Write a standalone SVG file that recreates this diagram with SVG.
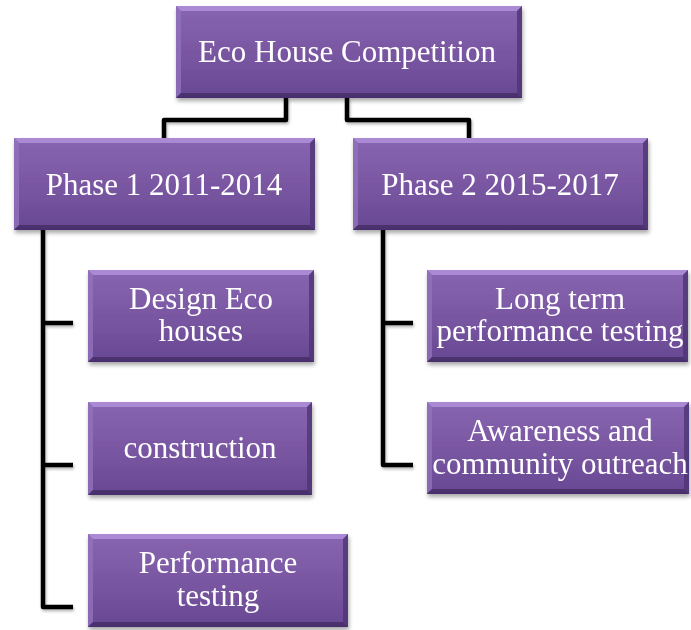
<svg xmlns="http://www.w3.org/2000/svg" width="691" height="630" viewBox="0 0 691 630">
<defs>
<linearGradient id="gf" x1="0" y1="0" x2="0" y2="1">
<stop offset="0" stop-color="#8865b0"/>
<stop offset="0.5" stop-color="#7a57a2"/>
<stop offset="1" stop-color="#684893"/>
</linearGradient>
<filter id="sh" x="-10%" y="-10%" width="120%" height="130%">
<feGaussianBlur in="SourceAlpha" stdDeviation="2"/>
<feOffset dx="1" dy="3" result="o"/>
<feComponentTransfer><feFuncA type="linear" slope="0.35"/></feComponentTransfer>
<feMerge><feMergeNode/><feMergeNode in="SourceGraphic"/></feMerge>
</filter>
<filter id="lsh" x="-20%" y="-20%" width="140%" height="140%">
<feGaussianBlur in="SourceAlpha" stdDeviation="1.5"/>
<feOffset dx="1" dy="2"/>
<feComponentTransfer><feFuncA type="linear" slope="0.3"/></feComponentTransfer>
<feMerge><feMergeNode/><feMergeNode in="SourceGraphic"/></feMerge>
</filter>
</defs>
<style>
.box{fill:url(#gf);}
.bt{fill:#b290dc;opacity:0.85;}
.bl{fill:#9272bb;opacity:0.8;}
.br{fill:#4f3474;opacity:0.8;}
.bb{fill:#442c66;opacity:0.85;}
.t{font-family:'Liberation Serif','DejaVu Serif',serif;font-size:31px;fill:#ffffff;text-anchor:middle;}
.c{fill:none;stroke:#000000;stroke-width:4.5;stroke-linejoin:round;}
</style>
<rect width="691" height="630" fill="#ffffff"/>

<g id="connectors" filter="url(#lsh)">
<path class="c" d="M286,98 V120 H164 V140"/>
<path class="c" d="M347,98 V120 H469 V140"/>
<path class="c" d="M43,230 V607 H73"/>
<path class="c" d="M43,323 H73"/>
<path class="c" d="M43,465 H73"/>
<path class="c" d="M383,230 V465 H413"/>
<path class="c" d="M383,323 H413"/>
</g>

<g id="root" filter="url(#sh)">
<rect class="box" x="176" y="6" width="346" height="92"/>
<polygon class="bt" points="176,6 522,6 517,11 181,11"/>
<polygon class="bl" points="176,6 181,11 181,93 176,98"/>
<polygon class="br" points="522,6 522,98 517,93 517,11"/>
<polygon class="bb" points="176,98 522,98 517,93 181,93"/>
<text class="t" x="347" y="62">Eco House Competition</text>
</g>

<g id="phase1" filter="url(#sh)">
<rect class="box" x="14" y="138" width="301" height="92"/>
<polygon class="bt" points="14,138 315,138 310,143 19,143"/>
<polygon class="bl" points="14,138 19,143 19,225 14,230"/>
<polygon class="br" points="315,138 315,230 310,225 310,143"/>
<polygon class="bb" points="14,230 315,230 310,225 19,225"/>
<text class="t" x="164" y="195">Phase 1 2011-2014</text>
</g>

<g id="phase2" filter="url(#sh)">
<rect class="box" x="353" y="138" width="295" height="92"/>
<polygon class="bt" points="353,138 648,138 643,143 358,143"/>
<polygon class="bl" points="353,138 358,143 358,225 353,230"/>
<polygon class="br" points="648,138 648,230 643,225 643,143"/>
<polygon class="bb" points="353,230 648,230 643,225 358,225"/>
<text class="t" x="500" y="195">Phase 2 2015-2017</text>
</g>

<g id="design" filter="url(#sh)">
<rect class="box" x="88" y="270" width="226" height="92"/>
<polygon class="bt" points="88,270 314,270 309,275 93,275"/>
<polygon class="bl" points="88,270 93,275 93,357 88,362"/>
<polygon class="br" points="314,270 314,362 309,357 309,275"/>
<polygon class="bb" points="88,362 314,362 309,357 93,357"/>
<text class="t" x="201" y="309">Design Eco</text>
<text class="t" x="201" y="341">houses</text>
</g>

<g id="construction" filter="url(#sh)">
<rect class="box" x="88" y="402" width="224" height="93"/>
<polygon class="bt" points="88,402 312,402 307,407 93,407"/>
<polygon class="bl" points="88,402 93,407 93,490 88,495"/>
<polygon class="br" points="312,402 312,495 307,490 307,407"/>
<polygon class="bb" points="88,495 312,495 307,490 93,490"/>
<text class="t" x="200" y="458">construction</text>
</g>

<g id="performance" filter="url(#sh)">
<rect class="box" x="88" y="534" width="260" height="93"/>
<polygon class="bt" points="88,534 348,534 343,539 93,539"/>
<polygon class="bl" points="88,534 93,539 93,622 88,627"/>
<polygon class="br" points="348,534 348,627 343,622 343,539"/>
<polygon class="bb" points="88,627 348,627 343,622 93,622"/>
<text class="t" x="218" y="573">Performance</text>
<text class="t" x="218" y="606">testing</text>
</g>

<g id="longterm" filter="url(#sh)">
<rect class="box" x="427" y="270" width="261" height="92"/>
<polygon class="bt" points="427,270 688,270 683,275 432,275"/>
<polygon class="bl" points="427,270 432,275 432,357 427,362"/>
<polygon class="br" points="688,270 688,362 683,357 683,275"/>
<polygon class="bb" points="427,362 688,362 683,357 432,357"/>
<text class="t" x="560" y="309">Long term</text>
<text class="t" x="560" y="341">performance testing</text>
</g>

<g id="awareness" filter="url(#sh)">
<rect class="box" x="427" y="402" width="262" height="92"/>
<polygon class="bt" points="427,402 689,402 684,407 432,407"/>
<polygon class="bl" points="427,402 432,407 432,489 427,494"/>
<polygon class="br" points="689,402 689,494 684,489 684,407"/>
<polygon class="bb" points="427,494 689,494 684,489 432,489"/>
<text class="t" x="560" y="441">Awareness and</text>
<text class="t" x="560" y="474">community outreach</text>
</g>
</svg>
